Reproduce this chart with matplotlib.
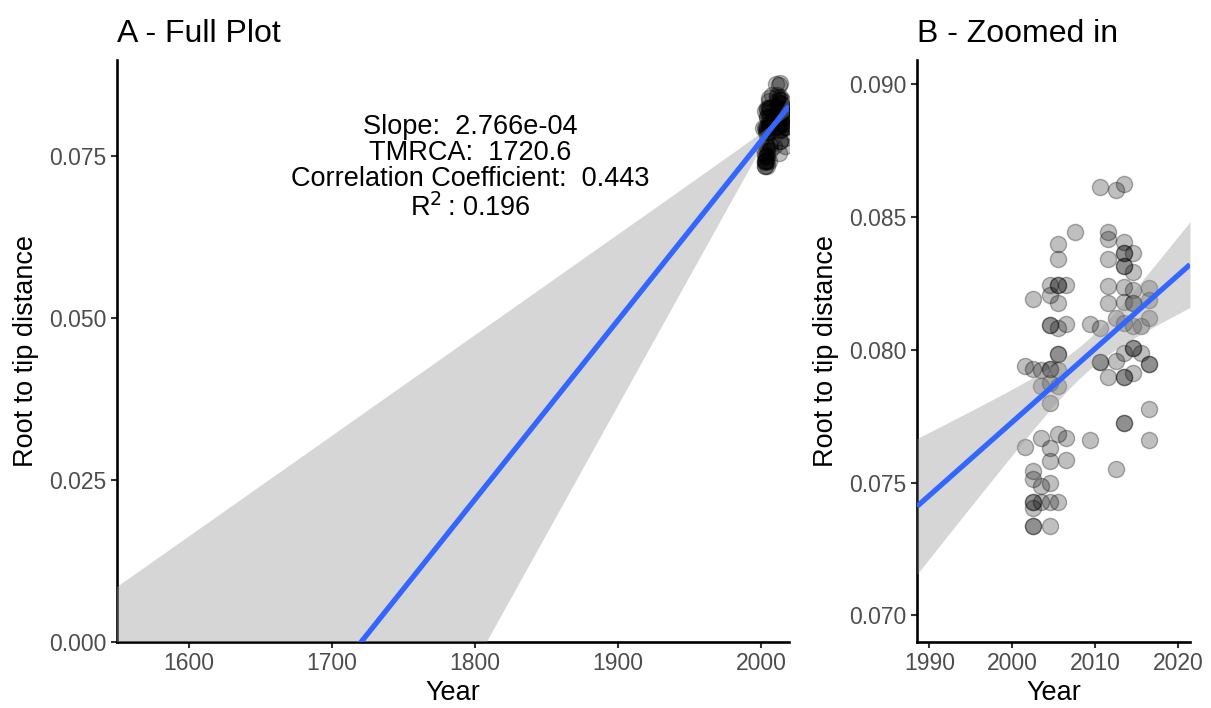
import numpy as np
import matplotlib
matplotlib.use("Agg")
import matplotlib.pyplot as plt

plt.rcParams['font.family'] = ['Liberation Sans', 'DejaVu Sans']

# sampling year (decimal) and root-to-tip distance
years = [2001.5] * 2 + [2002.5] * 9 + [2003.4] * 5 + [2004.5] * 13 + [2005.5] * 12 \
    + [2006.5] * 4 + [2007.5] * 1 + [2009.4] * 2 + [2010.5] * 4 + [2011.5] * 6 \
    + [2012.5] * 4 + [2013.5] * 14 + [2014.5] * 9 + [2015.5] * 2 + [2016.5] * 7
dist = [
    0.07937, 0.07634,
    0.08191, 0.07929, 0.07543, 0.07515, 0.07425, 0.07425, 0.07406, 0.07337, 0.07337,
    0.07925, 0.07862, 0.07669, 0.07487, 0.07425,
    0.08244, 0.08206, 0.08094, 0.08094, 0.07928, 0.07928, 0.07875, 0.07800, 0.07631,
    0.07581, 0.07500, 0.07425, 0.07337,
    0.08398, 0.08342, 0.08244, 0.08244, 0.08177, 0.08081, 0.07985, 0.07985, 0.07925,
    0.07862, 0.07681, 0.07425,
    0.08244, 0.08096, 0.07666, 0.07584,
    0.08441,
    0.08098, 0.07660,
    0.08613, 0.08081, 0.07952, 0.07952,
    0.08444, 0.08415, 0.08340, 0.08240, 0.08177, 0.07898,
    0.08600, 0.08119, 0.07956, 0.07552,
    0.08623, 0.08406, 0.08363, 0.08363, 0.08313, 0.08313, 0.08235, 0.08181, 0.08100,
    0.07988, 0.07898, 0.07898, 0.07725, 0.07725,
    0.08363, 0.08291, 0.08225, 0.08177, 0.08177, 0.08090, 0.08006, 0.08006, 0.07912,
    0.08090, 0.07988,
    0.08231, 0.08188, 0.08119, 0.07947, 0.07947, 0.07778, 0.07659,
]

# regression results printed on the chart
slope_txt = "2.766e-04"
tmrca_txt = "1720.6"
corr_txt = "0.443"
r2_txt = "0.196"

x = np.array(years)
y = np.array(dist)

# line from the reported slope / root date, 95% band from the residual spread
b = float(slope_txt)
a = -b * float(tmrca_txt)
n = len(x)
resid = y - (a + b * x)
s = np.sqrt(np.sum(resid ** 2) / (n - 2))
xbar = x.mean()
sxx = np.sum((x - xbar) ** 2)
tval = 1.985


def band(xs):
    fit = a + b * xs
    se = s * np.sqrt(1.0 / n + (xs - xbar) ** 2 / sxx)
    return fit, fit - tval * se, fit + tval * se


fig = plt.figure(figsize=(12.11, 7.08), dpi=100)
axA = fig.add_axes([117 / 1211, 66 / 708, 672 / 1211, 582 / 708])
axB = fig.add_axes([917 / 1211, 66 / 708, 273 / 1211, 582 / 708])

tick_col = "#4d4d4d"


def style(ax, title):
    for sp in ["top", "right"]:
        ax.spines[sp].set_visible(False)
    for sp in ["left", "bottom"]:
        ax.spines[sp].set_linewidth(1.9)
        ax.spines[sp].set_color("black")
    ax.tick_params(axis="both", length=4.5, width=1.5, color="#333333",
                   labelcolor=tick_col, labelsize=16.5, pad=3)
    ax.set_xlabel("Year", fontsize=19.5, labelpad=3)
    ax.set_ylabel("Root to tip distance", fontsize=19.5, labelpad=7)
    ax.set_title(title, loc="left", fontsize=23, pad=13)
    ax.yaxis.set_major_formatter(matplotlib.ticker.FormatStrFormatter("%.3f"))


def draw(ax, x0, x1):
    ax.scatter(x, y, s=135, facecolor=(0, 0, 0, 0.25), edgecolor=(0, 0, 0, 0.3),
               linewidth=1.0, zorder=2)
    xs = np.linspace(x0, x1, 300)
    fit, lo, hi = band(xs)
    ax.fill_between(xs, lo, hi, color="#999999", alpha=0.4, linewidth=0, zorder=3)
    ax.plot(xs, fit, color="#3366FF", lw=3.8, zorder=4, solid_capstyle="butt")
    ax.set_xlim(x0, x1)


# panel A - full range back to the root
draw(axA, 1550, 2019.6)
axA.set_ylim(0, 0.0898)
axA.set_xticks([1600, 1700, 1800, 1900, 2000])
axA.set_yticks([0, 0.025, 0.05, 0.075])
style(axA, "A - Full Plot")

lines = ["Slope:  " + slope_txt, "TMRCA:  " + tmrca_txt,
         "Correlation Coefficient:  " + corr_txt, r"R$^{2}$$\,$: " + r2_txt]
ypos = [0.0795, 0.0755, 0.0715, 0.0670]
for t, yy in zip(lines, ypos):
    axA.text(1797, yy, t, fontsize=19.5, ha="center", va="center", zorder=5)

# panel B - zoomed in on the samples
draw(axB, 1988.5, 2021.4)
axB.set_ylim(0.0690, 0.0909)
axB.set_xticks([1990, 2000, 2010, 2020])
axB.set_yticks([0.070, 0.075, 0.080, 0.085, 0.090])
style(axB, "B - Zoomed in")

fig.savefig("out.png", dpi=100)
